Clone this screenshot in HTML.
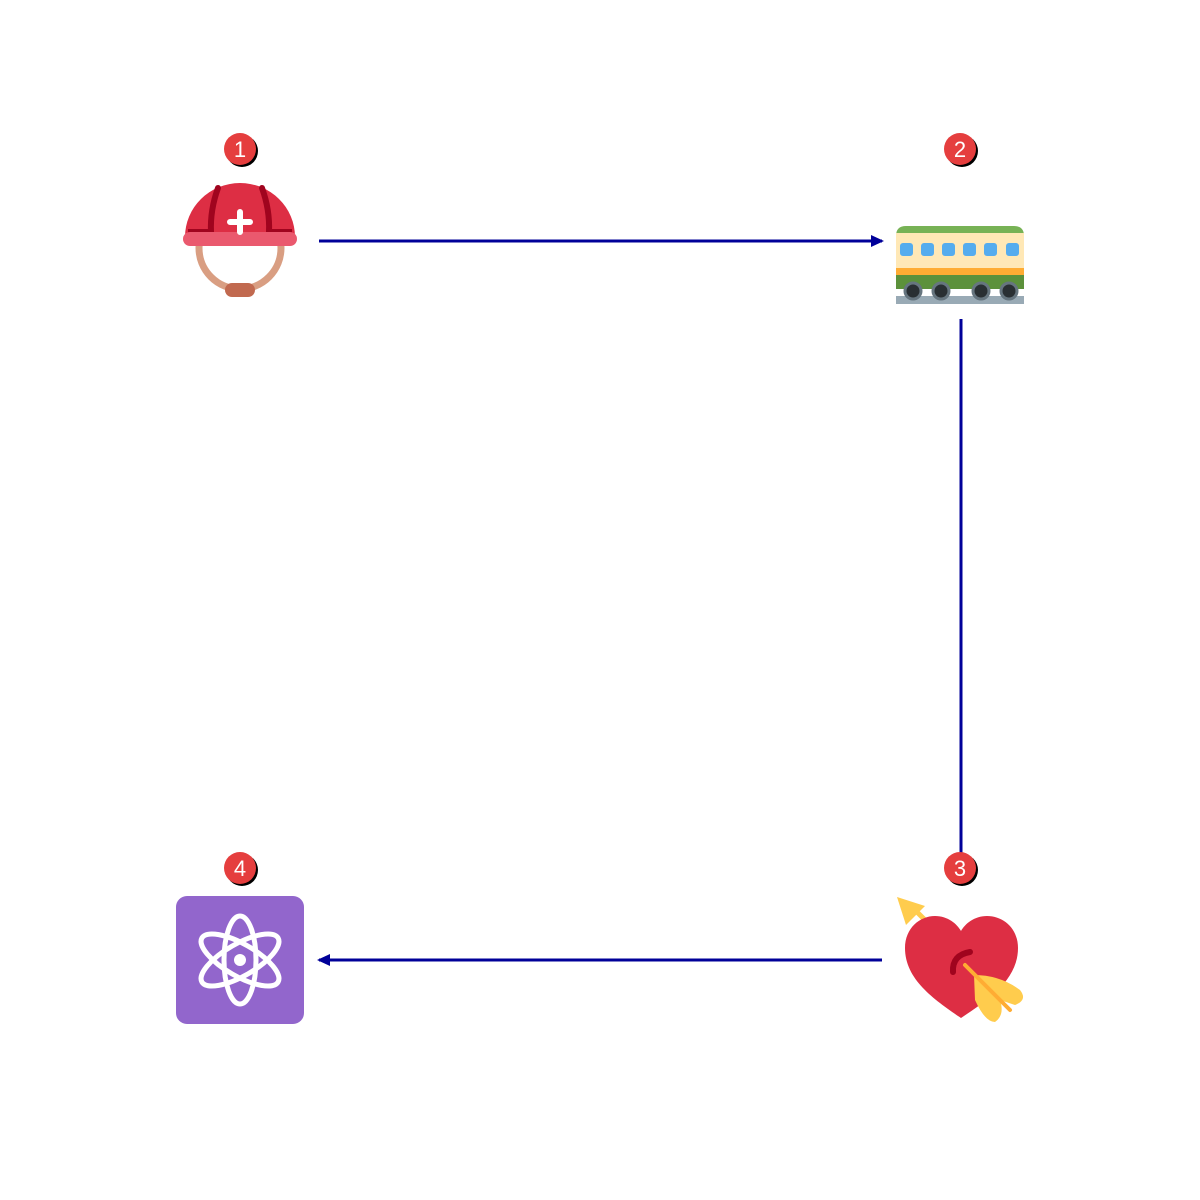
<!DOCTYPE html>
<html><head><meta charset="utf-8"><style>html,body{margin:0;padding:0;background:#fff}svg{display:block}</style></head>
<body>
<svg width="1200" height="1200" viewBox="0 0 1200 1200" xmlns="http://www.w3.org/2000/svg">
<defs>
<marker id="ah" markerWidth="14" markerHeight="14" refX="11" refY="6" orient="auto" markerUnits="userSpaceOnUse">
<path d="M0,0 L13,6 L0,12 z" fill="#000099"/>
</marker>
</defs>
<line x1="319" y1="241" x2="882" y2="241" stroke="#000099" stroke-width="3" marker-end="url(#ah)"/>
<line x1="961" y1="319" x2="961" y2="855" stroke="#000099" stroke-width="3"/>
<line x1="882" y1="960" x2="319" y2="960" stroke="#000099" stroke-width="3" marker-end="url(#ah)"/>

<g>
<circle cx="240" cy="248" r="41" fill="none" stroke="#d99e82" stroke-width="7"/>
<rect x="225" y="283" width="30" height="14" rx="7" fill="#c1694f"/>
<path d="M185,237 A55,54 0 0 1 295,237 Z" fill="#dd2e44"/>
<path d="M218,188 Q210,210 211,232" stroke="#a0041e" stroke-width="6" fill="none" stroke-linecap="round"/>
<path d="M262,188 Q270,210 269,232" stroke="#a0041e" stroke-width="6" fill="none" stroke-linecap="round"/>
<path d="M188,232 L211,232 M269,232 L292,232" stroke="#a0041e" stroke-width="6"/>
<rect x="183" y="232" width="114" height="14" rx="7" fill="#ea596e"/>
<path d="M240,212 V232 M230,222 H250" stroke="#fff" stroke-width="6" stroke-linecap="round"/>
</g>

<g>
<path d="M896,236 Q896,226 906,226 H1014 Q1024,226 1024,236 V238 H896 Z" fill="#77b255"/>
<rect x="896" y="233" width="128" height="36" fill="#ffe8b6"/>
<g fill="#55acee">
<rect x="900" y="243" width="13" height="13" rx="3"/>
<rect x="921" y="243" width="13" height="13" rx="3"/>
<rect x="942" y="243" width="13" height="13" rx="3"/>
<rect x="963" y="243" width="13" height="13" rx="3"/>
<rect x="984" y="243" width="13" height="13" rx="3"/>
<rect x="1006" y="243" width="13" height="13" rx="3"/>
</g>
<rect x="896" y="268" width="128" height="7" fill="#ffac33"/>
<rect x="896" y="275" width="128" height="14" fill="#5c913b"/>
<rect x="896" y="296" width="128" height="8" fill="#99aab5"/>
<g fill="#292f33" stroke="#66757f" stroke-width="3">
<circle cx="913" cy="291" r="8"/><circle cx="941" cy="291" r="8"/>
<circle cx="981" cy="291" r="8"/><circle cx="1009" cy="291" r="8"/>
</g>
</g>

<g>
<path d="M910,905 L925,920" stroke="#ffcc4d" stroke-width="5"/>
<path d="M897,897 L925,906 L906,925 Z" fill="#ffcc4d"/>
<path d="M961,1018 C935,1000 905,980 905,948 C905,928 920,916 935,916 C948,916 957,924 961,931 C965,924 974,916 987,916 C1003,916 1018,928 1018,948 C1018,980 988,1000 961,1018 Z" fill="#dd2e44"/>
<path d="M953,972 Q952,955 970,952" stroke="#a0041e" stroke-width="6" fill="none" stroke-linecap="round"/>
<path d="M974,975 Q1000,975 1020,990 Q1028,1000 1015,1005 L1000,1000 Q1005,1015 995,1022 Q985,1022 975,1000 Z" fill="#ffcc4d"/>
<path d="M965,965 L1010,1010" stroke="#ffac33" stroke-width="4" stroke-linecap="round"/>
</g>

<g>
<rect x="176" y="896" width="128" height="128" rx="11" fill="#9266cc"/>
<g fill="none" stroke="#fff" stroke-width="5">
<ellipse cx="240" cy="960" rx="16" ry="44"/>
<ellipse cx="240" cy="960" rx="16" ry="44" transform="rotate(60 240 960)"/>
<ellipse cx="240" cy="960" rx="16" ry="44" transform="rotate(-60 240 960)"/>
</g>
<circle cx="240" cy="960" r="6" fill="#fff"/>
</g>

<g font-family="Liberation Sans, sans-serif" font-size="22" text-anchor="middle">
<g transform="translate(240,149)"><circle cx="2" cy="2" r="16" fill="#000"/><circle r="16" fill="#e53e3e"/><text y="8" fill="#fff">1</text></g>
<g transform="translate(960,149)"><circle cx="2" cy="2" r="16" fill="#000"/><circle r="16" fill="#e53e3e"/><text y="8" fill="#fff">2</text></g>
<g transform="translate(960,868)"><circle cx="2" cy="2" r="16" fill="#000"/><circle r="16" fill="#e53e3e"/><text y="8" fill="#fff">3</text></g>
<g transform="translate(240,868)"><circle cx="2" cy="2" r="16" fill="#000"/><circle r="16" fill="#e53e3e"/><text y="8" fill="#fff">4</text></g>
</g>
</svg>
</body></html>
